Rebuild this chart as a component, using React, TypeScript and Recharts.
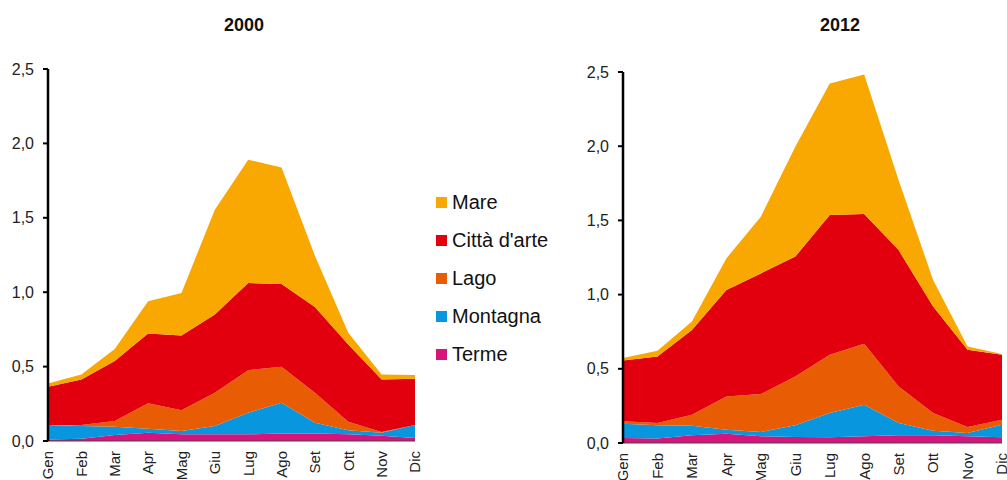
import React from "react";
import { AreaChart, Area, XAxis, YAxis } from "recharts";

const months = ["Gen", "Feb", "Mar", "Apr", "Mag", "Giu", "Lug", "Ago", "Set", "Ott", "Nov", "Dic"];
const yTicks = [0, 0.5, 1, 1.5, 2, 2.5];

// Year 2000 (stacked components)
const terme2000 = [0.01, 0.015, 0.04, 0.055, 0.045, 0.045, 0.045, 0.05, 0.05, 0.045, 0.035, 0.02];
const montagna2000 = [0.097, 0.085, 0.056, 0.028, 0.022, 0.055, 0.145, 0.207, 0.073, 0.027, 0.021, 0.087];
const lago2000 = [0.0, 0.007, 0.038, 0.17, 0.139, 0.224, 0.286, 0.242, 0.201, 0.058, 0.004, 0.0];
const citta2000 = [0.257, 0.307, 0.403, 0.469, 0.503, 0.526, 0.586, 0.556, 0.576, 0.518, 0.354, 0.311];
const mare2000 = [0.023, 0.033, 0.082, 0.217, 0.286, 0.704, 0.828, 0.783, 0.345, 0.079, 0.033, 0.025];

// Year 2012 (stacked components)
const terme2012 = [0.034, 0.03, 0.052, 0.063, 0.045, 0.04, 0.038, 0.045, 0.052, 0.052, 0.045, 0.038];
const montagna2012 = [0.096, 0.089, 0.065, 0.027, 0.029, 0.079, 0.164, 0.213, 0.083, 0.031, 0.022, 0.085];
const lago2012 = [0.016, 0.016, 0.073, 0.224, 0.256, 0.329, 0.392, 0.41, 0.246, 0.119, 0.041, 0.034];
const citta2012 = [0.41, 0.448, 0.572, 0.717, 0.813, 0.808, 0.942, 0.875, 0.919, 0.717, 0.52, 0.437];
const mare2012 = [0.016, 0.038, 0.056, 0.213, 0.382, 0.74, 0.886, 0.94, 0.471, 0.18, 0.022, 0.006];

const seriesKeys = ["terme", "montagna", "lago", "citta", "mare"];
const seriesNames: Record<string, string> = {
  mare: "Mare",
  citta: "Città d'arte",
  lago: "Lago",
  montagna: "Montagna",
  terme: "Terme",
};
const seriesColors: Record<string, string> = {
  mare: "#F8A800",
  citta: "#E2000F",
  lago: "#E85C04",
  montagna: "#0897DF",
  terme: "#D6147C",
};
const legendOrder = ["mare", "citta", "lago", "montagna", "terme"];

function build(t: number[], mo: number[], l: number[], c: number[], ma: number[]) {
  return months.map((m, i) => ({
    month: m,
    terme: t[i],
    montagna: mo[i],
    lago: l[i],
    citta: c[i],
    mare: ma[i],
  }));
}

const data2000 = build(terme2000, montagna2000, lago2000, citta2000, mare2000);
const data2012 = build(terme2012, montagna2012, lago2012, citta2012, mare2012);

const FONT = "'Liberation Sans', Arial, Helvetica, sans-serif";

const XTick = (props: any) => {
  const { x, y, payload } = props;
  return (
    <g transform={`translate(${x},${y + 10})`}>
      <text
        transform="rotate(-90)"
        textAnchor="end"
        dy="0.36em"
        fill="#222"
        fontSize={15}
        fontFamily={FONT}
      >
        {payload.value}
      </text>
    </g>
  );
};

const fmt = (v: number) => v.toFixed(1).replace(".", ",");

function Panel(props: {
  data: any[];
  width: number;
  yWidth: number;
  top: number;
  right: number;
  xHeight: number;
  tickMargin: number;
}) {
  const { data, width, yWidth, top, right, xHeight, tickMargin } = props;
  return (
    <AreaChart
      width={width}
      height={480}
      data={data}
      margin={{ top, right, bottom: 0, left: 0 }}
    >
      <XAxis
        dataKey="month"
        height={xHeight}
        interval={0}
        tickLine={false}
        tickSize={0}
        tickMargin={0}
        axisLine={{ stroke: "#444", strokeWidth: 1 }}
        tick={<XTick />}
      />
      <YAxis
        width={yWidth}
        domain={[0, 2.5]}
        ticks={yTicks}
        tickFormatter={fmt}
        axisLine={{ stroke: "#000", strokeWidth: 2.5 }}
        tickLine={{ stroke: "#000", strokeWidth: 2 }}
        tickSize={5}
        tickMargin={tickMargin}
        tick={{ fill: "#222", fontSize: 16, fontFamily: FONT }}
        interval={0}
      />
      {seriesKeys.map((k) => (
        <Area
          key={k}
          type="linear"
          dataKey={k}
          name={seriesNames[k]}
          stackId="a"
          stroke="none"
          fill={seriesColors[k]}
          fillOpacity={1}
          isAnimationActive={false}
          dot={false}
          activeDot={false}
        />
      ))}
    </AreaChart>
  );
}

export default function App() {
  return (
    <div
      style={{
        position: "absolute",
        left: 0,
        top: 0,
        width: 1007,
        height: 480,
        background: "#fff",
        overflow: "hidden",
        fontFamily: FONT,
      }}
    >
      <div style={{ position: "absolute", left: 0, top: 0 }}>
        <Panel data={data2000} width={430} yWidth={48} top={69} right={15} xHeight={39} tickMargin={9} />
      </div>
      <div style={{ position: "absolute", left: 560, top: 0 }}>
        <Panel data={data2012} width={447} yWidth={63} top={72} right={5} xHeight={37} tickMargin={9} />
      </div>
      <div
        style={{
          position: "absolute",
          left: 194,
          top: 14,
          width: 100,
          textAlign: "center",
          fontWeight: "bold",
          fontSize: 18,
          lineHeight: "22px",
          color: "#111",
        }}
      >
        2000
      </div>
      <div
        style={{
          position: "absolute",
          left: 790,
          top: 14,
          width: 100,
          textAlign: "center",
          fontWeight: "bold",
          fontSize: 18,
          lineHeight: "22px",
          color: "#111",
        }}
      >
        2012
      </div>
      <div style={{ position: "absolute", left: 436, top: 183 }}>
        {legendOrder.map((k) => (
          <div
            key={k}
            style={{ display: "flex", alignItems: "center", height: 38 }}
          >
            <div
              style={{
                width: 11,
                height: 11,
                background: seriesColors[k],
                marginRight: 5,
              }}
            />
            <span style={{ fontSize: 20, color: "#111", whiteSpace: "nowrap" }}>
              {seriesNames[k]}
            </span>
          </div>
        ))}
      </div>
    </div>
  );
}
